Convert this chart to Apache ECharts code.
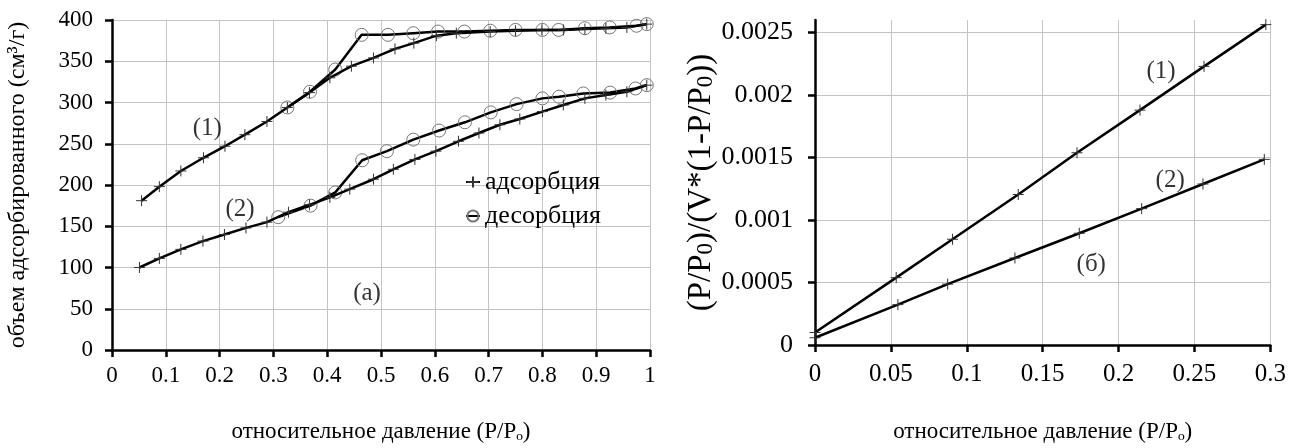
<!DOCTYPE html>
<html><head><meta charset="utf-8">
<script src="https://cdn.jsdelivr.net/npm/echarts@6/dist/echarts.min.js"></script>
<style>html,body{margin:0;padding:0;background:#fff}#c{width:1289px;height:448px}</style>
</head><body><div id="c"></div>
<script>
// ---- Left chart (a): isotherms ----
const ads1P = [0.055,0.088,0.128,0.170,0.210,0.247,0.288,0.326,0.367,0.405,0.445,0.486,0.526,0.561,0.603,0.640,0.703,0.750,0.799,0.839,0.879,0.918,0.957,0.994];
const ads1V = [181,198,217,233,247,261,277,294,312,330,344,354,365,372,381,384,386,387,388,388,389,390,391,395];
const des1P = [0.326,0.368,0.415,0.464,0.513,0.560,0.606,0.655,0.703,0.750,0.800,0.830,0.879,0.925,0.975,0.994];
const des1V = [294,313,340,382,382,384,386,386,387,388,388,388,390,391,393,395];
const ads2P = [0.051,0.088,0.128,0.169,0.209,0.249,0.288,0.328,0.367,0.405,0.442,0.486,0.523,0.563,0.602,0.644,0.682,0.721,0.758,0.800,0.839,0.879,0.918,0.957,0.994];
const ads2V = [100,111,122,132,140,148,155,167,176,185,195,207,219,231,241,253,263,273,280,289,297,305,309,313,321];
const des2P = [0.309,0.369,0.415,0.465,0.511,0.560,0.608,0.656,0.704,0.752,0.800,0.831,0.876,0.926,0.973,0.994];
const des2V = [161,175,191,230,241,255,266,276,288,298,305,307,311,312,317,321];
const leftAnnot = [[0.177,268,'(1)'],[0.238,170,'(2)'],[0.474,69,'(a)']];

// ---- Right chart (б): BET plots ----
const bet1X = [0,0.0535,0.0906,0.1339,0.1726,0.2141,0.2563,0.297];
const bet1Y = [0.0001,0.000539,0.000846,0.001204,0.001538,0.001879,0.002229,0.002563];
const bet2X = [0,0.0546,0.0874,0.1317,0.1741,0.2152,0.2556,0.296];
const bet2Y = [0.000058,0.000323,0.000487,0.000696,0.000894,0.001091,0.001288,0.001485];
const rightAnnot = [[0.228,0.00219,'(1)'],[0.234,0.001315,'(2)'],[0.182,0.000644,'(б)']];
const rightYTicks = [0,0.0005,0.001,0.0015,0.002,0.0025];

const legendNames = ['адсорбция','десорбция'];
const xTitle = 'относительное давление (P/Pₒ)';
const leftYTitle = 'объем адсорбированного (см³/г)';
const rightYTitle = '(P/P{s|0})/(V*(1-P/P{s|0}))';

const FONT = '"Liberation Serif", "Times New Roman", serif';
const zip = (a,b) => a.map((v,i)=>[v,b[i]]);
const PLUS = 'path://M5,0L5,10M0,5L10,5';

function axisCommon(fs){
  return {
    axisLine:{show:true,onZero:false,lineStyle:{color:'#000',width:2.5}},
    axisTick:{show:true,inside:false,length:7,lineStyle:{color:'#000',width:2.5}},
    splitLine:{show:true,lineStyle:{color:'#c4c4c4',width:1}},
    axisLabel:{color:'#000',fontFamily:FONT,fontSize:fs},
    nameTextStyle:{color:'#000',fontFamily:FONT,fontSize:23},
    nameLocation:'middle'
  };
}
function lineSeries(name, data, xi, yi, sym){
  return {
    type:'line', name, data, xAxisIndex:xi, yAxisIndex:yi,
    showSymbol:true, symbol: sym==='plus'?PLUS:'circle',
    symbolSize: sym==='plus'?11:13,
    lineStyle:{color:'#000',width:2.5},
    itemStyle:{color:'rgba(0,0,0,0)',borderColor: sym==='plus'?'#333':'#777',borderWidth:1},
    animation:false, z: sym==='plus'?3:2
  };
}
function annotSeries(arr, xi, yi){
  return {type:'scatter', xAxisIndex:xi, yAxisIndex:yi, silent:true, animation:false,
    symbolSize:1, itemStyle:{color:'rgba(0,0,0,0)'},
    data: arr.map(a=>({value:[a[0],a[1]], name:a[2]})),
    label:{show:true, position:'inside', formatter:p=>p.name, color:'#000', fontFamily:FONT, fontSize:25}};
}

const chart = echarts.init(document.getElementById('c'));
const xa0 = Object.assign(axisCommon(23), {gridIndex:0, type:'value', min:0, max:1, interval:0.1, name:xTitle, nameGap:70});
xa0.axisLabel.margin = 14;
const ya0 = Object.assign(axisCommon(23), {gridIndex:0, type:'value', min:0, max:400, interval:50, name:leftYTitle, nameGap:82});
ya0.axisLabel.margin = 19;
ya0.nameTextStyle.fontSize = 24;
const xa1 = Object.assign(axisCommon(25), {gridIndex:1, type:'value', min:0, max:0.3, interval:0.05, name:xTitle, nameGap:75});
xa1.axisLabel.margin = 17;
const ya1 = Object.assign(axisCommon(26), {gridIndex:1, type:'value', min:0, max:0.0026, interval:0.0005, name:rightYTitle, nameGap:93});
ya1.axisLabel.margin = 22;
ya1.axisLabel.customValues = rightYTicks;
ya1.axisTick.customValues = rightYTicks;
ya1.nameTextStyle = {color:'#000',fontFamily:FONT,fontSize:33,
  rich:{s:{fontFamily:FONT,fontSize:23,color:'#000',verticalAlign:'bottom'}}};

chart.setOption({
  backgroundColor:'#fff',
  animation:false,
  grid:[
    {left:112, right:639, top:20, bottom:93},
    {left:815, right:16, top:20, bottom:98}
  ],
  legend:{data:legendNames, orient:'vertical', left:460, top:164, itemGap:8, itemWidth:14, itemHeight:14,
    textStyle:{color:'#000',fontFamily:FONT,fontSize:26}, selectedMode:false},
  xAxis:[xa0, xa1],
  yAxis:[ya0, ya1],
  series:[
    lineSeries('десорбция', zip(des1P,des1V), 0,0,'circle'),
    lineSeries('адсорбция', zip(ads1P,ads1V), 0,0,'plus'),
    lineSeries('десорбция', zip(des2P,des2V), 0,0,'circle'),
    lineSeries('адсорбция', zip(ads2P,ads2V), 0,0,'plus'),
    lineSeries('bet1', zip(bet1X,bet1Y), 1,1,'plus'),
    lineSeries('bet2', zip(bet2X,bet2Y), 1,1,'plus'),
    annotSeries(leftAnnot,0,0),
    annotSeries(rightAnnot,1,1)
  ]
});
</script></body></html>
